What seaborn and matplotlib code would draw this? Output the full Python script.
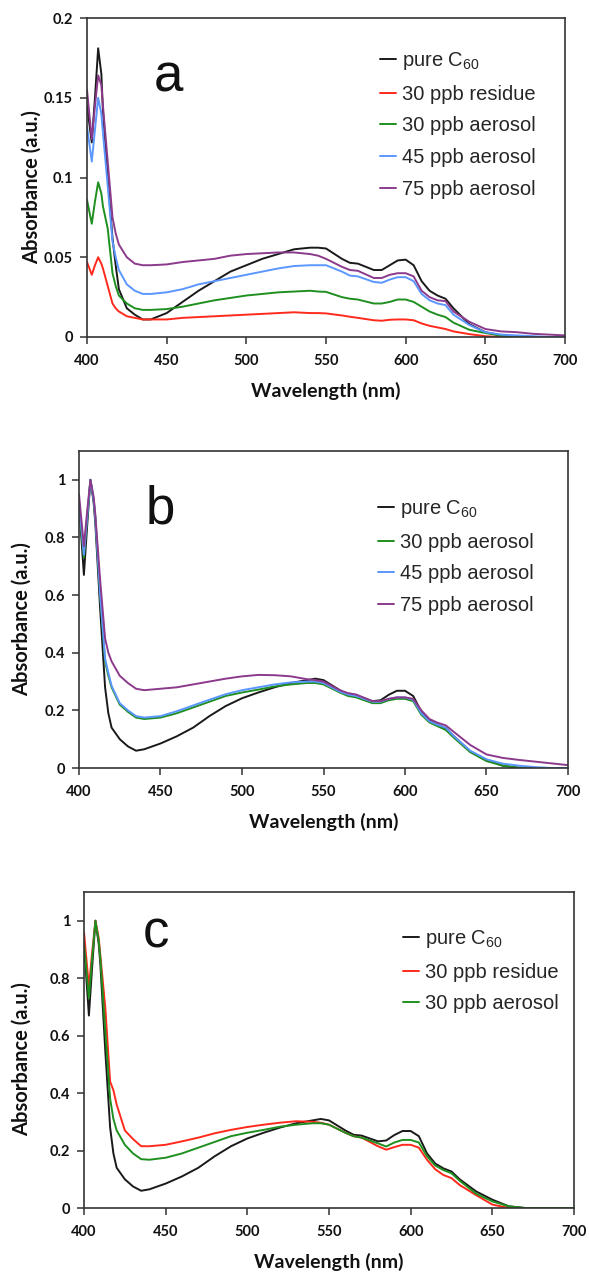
import matplotlib
matplotlib.use("Agg")
import matplotlib.pyplot as plt
import numpy as np
import pandas as pd
import seaborn as sns

# ---------------- data ----------------
wavelength = [400, 403, 405, 407, 409, 410, 413, 416, 418, 420, 425, 430, 435, 440, 450, 460, 470, 480,
              490, 500, 510, 520, 530, 540, 545, 550, 560, 565, 570, 580, 585, 590, 595,
              600, 605, 610, 615, 620, 625, 630, 640, 650, 660, 670, 680, 690, 700]

# panel a (raw absorbance)
a_pure = [0.145, 0.122, 0.150, 0.181, 0.165, 0.142, 0.100, 0.062, 0.045, 0.030, 0.018, 0.014, 0.011, 0.011, 0.015, 0.022, 0.029, 0.035,
          0.041, 0.045, 0.049, 0.052, 0.055, 0.056, 0.056, 0.0555, 0.049, 0.0465, 0.046, 0.042, 0.042, 0.045, 0.048,
          0.0485, 0.045, 0.035, 0.029, 0.026, 0.024, 0.018, 0.008, 0.003, 0.001, 0.0, 0.0, 0.0, 0.0]
a_res30 = [0.047, 0.039, 0.045, 0.050, 0.046, 0.043, 0.032, 0.021, 0.018, 0.016, 0.013, 0.012, 0.011, 0.011, 0.011, 0.012, 0.0125, 0.013,
           0.0135, 0.014, 0.0145, 0.015, 0.0155, 0.015, 0.015, 0.0148, 0.0135, 0.0127, 0.012, 0.0105, 0.0102, 0.0108, 0.011,
           0.011, 0.0105, 0.0085, 0.007, 0.006, 0.005, 0.0035, 0.0018, 0.0005, 0.0, 0.0, 0.0, 0.0, 0.0]
a_aer30 = [0.086, 0.071, 0.085, 0.097, 0.090, 0.082, 0.068, 0.040, 0.032, 0.026, 0.021, 0.018, 0.017, 0.017, 0.0175, 0.019, 0.021, 0.023,
           0.0245, 0.026, 0.027, 0.028, 0.0285, 0.029, 0.0285, 0.0283, 0.025, 0.024, 0.0235, 0.021, 0.021, 0.022, 0.0235,
           0.0235, 0.022, 0.019, 0.016, 0.014, 0.0125, 0.009, 0.0045, 0.0025, 0.0008, 0.0, 0.0, 0.0, 0.0]
a_aer45 = [0.132, 0.110, 0.130, 0.150, 0.140, 0.128, 0.095, 0.060, 0.050, 0.042, 0.033, 0.029, 0.027, 0.027, 0.028, 0.030, 0.033, 0.035,
           0.037, 0.039, 0.041, 0.043, 0.0445, 0.045, 0.045, 0.045, 0.041, 0.0385, 0.038, 0.0345, 0.034, 0.036, 0.0375,
           0.0375, 0.035, 0.027, 0.023, 0.021, 0.020, 0.014, 0.0075, 0.003, 0.0015, 0.001, 0.0005, 0.0, 0.0]
a_aer75 = [0.155, 0.124, 0.145, 0.164, 0.158, 0.145, 0.110, 0.075, 0.065, 0.058, 0.050, 0.046, 0.045, 0.045, 0.0455, 0.047, 0.048, 0.049,
           0.051, 0.052, 0.0525, 0.053, 0.053, 0.052, 0.051, 0.049, 0.044, 0.042, 0.0415, 0.037, 0.037, 0.039, 0.040,
           0.040, 0.038, 0.029, 0.025, 0.023, 0.0225, 0.016, 0.0095, 0.005, 0.0035, 0.003, 0.002, 0.0015, 0.001]

# panel b (normalised)
b_pure = [0.92, 0.67, 0.84, 1.00, 0.92, 0.85, 0.55, 0.28, 0.19, 0.14, 0.10, 0.075, 0.06, 0.065, 0.085, 0.11, 0.14, 0.18,
          0.215, 0.242, 0.262, 0.28, 0.295, 0.305, 0.31, 0.305, 0.27, 0.255, 0.252, 0.232, 0.235, 0.254, 0.268,
          0.268, 0.25, 0.196, 0.165, 0.15, 0.138, 0.11, 0.058, 0.029, 0.008, 0.0, 0.0, 0.0, 0.0]
b_aer30 = [0.90, 0.73, 0.87, 1.00, 0.93, 0.87, 0.60, 0.37, 0.32, 0.28, 0.22, 0.195, 0.175, 0.17, 0.175, 0.19, 0.21, 0.23,
           0.25, 0.262, 0.272, 0.283, 0.29, 0.295, 0.295, 0.29, 0.262, 0.25, 0.245, 0.225, 0.225, 0.235, 0.24,
           0.24, 0.232, 0.185, 0.158, 0.145, 0.132, 0.105, 0.055, 0.024, 0.008, 0.002, 0.0, 0.0, 0.0]
b_aer45 = [0.92, 0.74, 0.87, 1.00, 0.93, 0.87, 0.60, 0.38, 0.33, 0.285, 0.225, 0.20, 0.18, 0.175, 0.18, 0.197, 0.217, 0.237,
           0.256, 0.27, 0.28, 0.29, 0.297, 0.30, 0.30, 0.295, 0.265, 0.255, 0.25, 0.23, 0.23, 0.24, 0.245,
           0.245, 0.237, 0.19, 0.162, 0.15, 0.14, 0.11, 0.06, 0.03, 0.015, 0.008, 0.003, 0.0, 0.0]
b_aer75 = [0.95, 0.77, 0.89, 1.00, 0.94, 0.88, 0.65, 0.45, 0.40, 0.37, 0.32, 0.295, 0.275, 0.27, 0.275, 0.28, 0.29, 0.30,
           0.31, 0.318, 0.323, 0.322, 0.318, 0.308, 0.305, 0.30, 0.27, 0.26, 0.255, 0.232, 0.232, 0.24, 0.245,
           0.245, 0.24, 0.20, 0.17, 0.157, 0.148, 0.125, 0.08, 0.047, 0.035, 0.028, 0.022, 0.016, 0.01]

# panel c (normalised)
c_pure = [0.92, 0.67, 0.84, 1.00, 0.92, 0.85, 0.55, 0.28, 0.19, 0.14, 0.10, 0.075, 0.06, 0.065, 0.085, 0.11, 0.14, 0.18,
          0.215, 0.242, 0.262, 0.28, 0.295, 0.305, 0.31, 0.305, 0.27, 0.255, 0.252, 0.232, 0.235, 0.254, 0.268,
          0.268, 0.25, 0.19, 0.155, 0.138, 0.127, 0.10, 0.058, 0.029, 0.006, 0.0, 0.0, 0.0, 0.0]
c_res30 = [0.96, 0.77, 0.89, 1.00, 0.94, 0.88, 0.70, 0.44, 0.41, 0.36, 0.27, 0.24, 0.215, 0.215, 0.22, 0.232, 0.245, 0.26,
           0.272, 0.282, 0.29, 0.297, 0.302, 0.30, 0.297, 0.29, 0.262, 0.25, 0.245, 0.215, 0.203, 0.212, 0.22,
           0.22, 0.21, 0.168, 0.135, 0.115, 0.104, 0.08, 0.045, 0.012, 0.0, 0.0, 0.0, 0.0, 0.0]
c_aer30 = [0.92, 0.73, 0.87, 1.00, 0.93, 0.87, 0.62, 0.38, 0.31, 0.27, 0.22, 0.19, 0.17, 0.168, 0.175, 0.19, 0.21, 0.23,
           0.25, 0.262, 0.272, 0.283, 0.29, 0.295, 0.295, 0.29, 0.262, 0.25, 0.245, 0.225, 0.214, 0.228, 0.237,
           0.237, 0.228, 0.18, 0.148, 0.132, 0.121, 0.095, 0.05, 0.023, 0.006, 0.0, 0.0, 0.0, 0.0]

labels_a = ["pure C$_{\\mathregular{60}}$", "30 ppb residue", "30 ppb aerosol", "45 ppb aerosol", "75 ppb aerosol"]
labels_b = ["pure C$_{\\mathregular{60}}$", "30 ppb aerosol", "45 ppb aerosol", "75 ppb aerosol"]
labels_c = ["pure C$_{\\mathregular{60}}$", "30 ppb residue", "30 ppb aerosol"]

xticks = [400, 450, 500, 550, 600, 650, 700]
yticks_a = [0, 0.05, 0.1, 0.15, 0.2]
ytick_labels_a = ["0", "0.05", "0.1", "0.15", "0.2"]
yticks_bc = [0, 0.2, 0.4, 0.6, 0.8, 1.0]
ytick_labels_bc = ["0", "0.2", "0.4", "0.6", "0.8", "1"]

colors = {
    "pure C$_{\\mathregular{60}}$": "#1a1a1a",
    "30 ppb residue": "#ff2a1c",
    "30 ppb aerosol": "#1f8f1f",
    "45 ppb aerosol": "#5b97ff",
    "75 ppb aerosol": "#8c3a8c",
}

# ---------------- style ----------------
sns.set_theme(style="ticks")
plt.rcParams["font.family"] = ["Lato", "DejaVu Sans"]
plt.rcParams["mathtext.fontset"] = "custom"
plt.rcParams["mathtext.rm"] = "Liberation Sans"

W, H = 589, 1274
fig = plt.figure(figsize=(W / 100, H / 100), dpi=100)


def px_axes(l, t, r, b):
    return [l / W, 1 - b / H, (r - l) / W, (b - t) / H]


def make_panel(rect, series, labels, ylim, yticks, yticklabels, letter, letter_xy, leg_xy, ylab_x):
    ax = fig.add_axes(px_axes(*rect))
    frames = []
    for lab, vals in zip(labels, series):
        frames.append(pd.DataFrame({"wl": wavelength, "abs": vals, "series": lab}))
    df = pd.concat(frames, ignore_index=True)
    sns.lineplot(data=df, x="wl", y="abs", hue="series", hue_order=labels,
                 palette=colors, linewidth=1.4, ax=ax, legend=False, errorbar=None,
                 estimator=None, sort=False)
    ax.set_xlim(400, 700)
    ax.set_ylim(*ylim)
    ax.set_xticks(xticks)
    ax.set_xticklabels([str(v) for v in xticks])
    ax.set_yticks(yticks)
    ax.set_yticklabels(yticklabels)
    ax.tick_params(direction="out", length=5, width=1.1, color="#333333",
                   labelsize=10.5, labelcolor="#111111")
    ax.tick_params(axis="x", pad=7)
    ax.tick_params(axis="y", pad=5)
    for lbl in ax.get_xticklabels() + ax.get_yticklabels():
        lbl.set_fontweight("bold")
    for sp in ax.spines.values():
        sp.set_linewidth(1.2)
        sp.set_color("#333333")
    ax.set_xlabel("Wavelength (nm)", fontsize=14, fontweight="bold", color="#111111")
    ax.set_ylabel("Absorbance (a.u.)", fontsize=14.5, fontweight="bold", color="#111111")
    ax.xaxis.set_label_coords(0.5, -0.17)
    ax.xaxis.label.set_va("center")
    ax.yaxis.set_label_coords(ylab_x, 0.47)
    ax.yaxis.label.set_va("center")
    ax.grid(False)

    handles = ax.get_lines()[:len(labels)]
    ax.legend(handles, labels, loc="upper left",
              bbox_to_anchor=(leg_xy[0] / W, 1 - leg_xy[1] / H), bbox_transform=fig.transFigure,
              frameon=False, borderpad=0, borderaxespad=0, handlelength=0.8, handletextpad=0.3,
              labelspacing=0.63, prop={"family": "Liberation Sans", "size": 14.5})
    fig.text(letter_xy[0] / W, 1 - letter_xy[1] / H, letter, ha="center", va="baseline",
             fontsize=38, family="Liberation Sans", color="#111111")
    return ax


make_panel((87, 18, 565, 337), [a_pure, a_res30, a_aer30, a_aer45, a_aer75], labels_a,
           (0, 0.2), yticks_a, ytick_labels_a, "a", (168, 92), (380, 50), -0.115)
make_panel((79, 451, 568, 768), [b_pure, b_aer30, b_aer45, b_aer75], labels_b,
           (0, 1.1), yticks_bc, ytick_labels_bc, "b", (160, 523), (378, 498), -0.117)
make_panel((84, 892, 574, 1208), [c_pure, c_res30, c_aer30], labels_c,
           (0, 1.1), yticks_bc, ytick_labels_bc, "c", (156, 948), (403, 928), -0.127)

fig.savefig("out.png", dpi=100, facecolor="white")
